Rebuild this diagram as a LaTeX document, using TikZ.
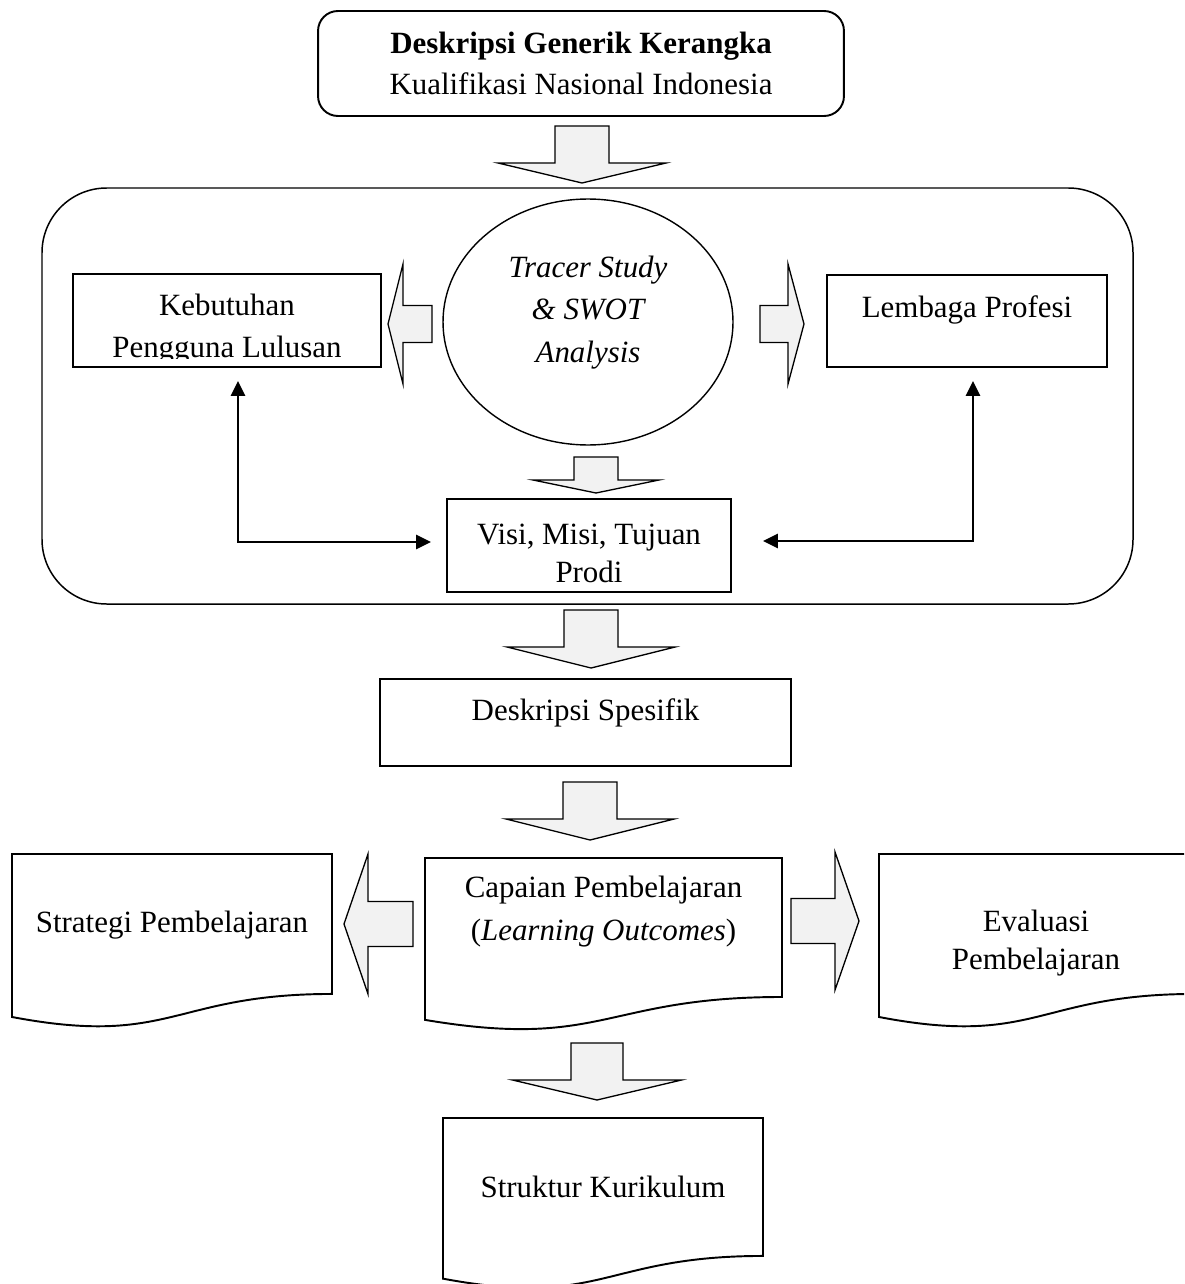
\documentclass[tikz,border=0pt]{standalone}
\usepackage{fontspec}
\setmainfont{Liberation Serif}
\usetikzlibrary{arrows.meta,calc,shapes.geometric}
\definecolor{arrfill}{HTML}{F2F2F2}
% down block arrow: cx, top, shaft half, head y, head half, tip y
\newcommand\BlkDown[6]{%
  \draw[blk] ({#1-#3},#2) -- ({#1+#3},#2) -- ({#1+#3},#4) -- ({#1+#5},#4) -- (#1,#6)
    -- ({#1-#5},#4) -- ({#1-#3},#4) -- cycle;}
% horizontal block arrow: cy, tail x, shaft half, head x, head half, tip x
\newcommand\BlkHoriz[6]{%
  \draw[blk] (#2,{#1-#3}) -- (#4,{#1-#3}) -- (#4,{#1-#5}) -- (#6,#1) -- (#4,{#1+#5})
    -- (#4,{#1+#3}) -- (#2,{#1+#3}) -- cycle;}
% document shape: left, top, width, height
\newcommand\DocShape[4]{%
  \draw[boxline] (#1,#2) -- ({#1+#3},#2) -- ({#1+#3},{#2+0.802*#4})
    .. controls ({#1+0.5*#3},{#2+0.802*#4}) and ({#1+0.5*#3},{#2+1.1075*#4}) .. (#1,{#2+0.934*#4}) -- cycle;}
\begin{document}
\begin{tikzpicture}[x=0.02cm,y=-0.02cm,
  boxline/.style={draw=black,line width=1.1pt},
  box/.style={boxline,rectangle,inner sep=0pt},
  blk/.style={draw=black,fill=arrfill,line width=0.75pt,line join=miter},
  txt/.style={font=\fontsize{17.6pt}{#1}\selectfont,align=center,inner sep=0pt},
  txt/.default=23pt,
  itxt/.style={font=\fontsize{17.6pt}{#1}\selectfont\itshape,align=center,inner sep=0pt},
  conn/.style={line width=1.3pt,{Triangle[length=8.5pt,width=8pt]}-{Triangle[length=8.5pt,width=8pt]}}]
\useasboundingbox (0,0) rectangle (1184,1284);
\clip (0,0) rectangle (1184,1284);
\fill[white] (0,0) rectangle (1184,1284);

% top box
\node[box,rounded corners=11.3pt,minimum width=10.52cm,minimum height=2.1cm,
      txt=23.2pt] (kkni) at (581,63.5)
  {{\bfseries Deskripsi Generik Kerangka}\\Kualifikasi Nasional Indonesia};
\BlkDown{582}{126}{27}{163}{84}{183}

% big rounded frame
\draw[draw=black,line width=0.85pt,rounded corners=36.8pt] (42,188) rectangle (1133,604);

% ellipse
\node[draw=black,line width=0.8pt,ellipse,minimum width=5.8cm,minimum height=4.92cm,inner sep=0pt] (swot) at (588,322) {};
\node[itxt=24.1pt] (swotT) at (588,312.5) {Tracer Study\\\& SWOT\\Analysis};

% side boxes
\node[box,minimum width=6.16cm,minimum height=1.86cm] (keb) at (227,320.5) {};
\begin{scope}
  \clip (73,274) rectangle (381,358.5);
  \node[txt=23.8pt] (kebT) at (227,329) {Kebutuhan\\Pengguna Lulusan};
\end{scope}
\node[box,minimum width=5.6cm,minimum height=1.84cm] (lem) at (967,321) {};
\node[txt] (lemT) at (967,310) {Lembaga Profesi};

\BlkHoriz{324}{432}{18.5}{403}{60}{388}
\BlkHoriz{324}{760}{18.5}{788}{60}{804}
\BlkDown{596}{457}{22}{480}{63}{493}

% visi box
\node[box,minimum width=5.68cm,minimum height=1.86cm] (visi) at (589,545.5) {};
\node[txt=21.5pt] (visiT) at (589,553.5) {Visi, Misi, Tujuan\\Prodi};

\draw[conn] ($(keb.south)+(11,13)$) |- ($(visi.west)+(-15,-3.5)$);
\draw[conn] ($(lem.south)+(6,13)$) |- ($(visi.east)+(31,-4.5)$);

\BlkDown{591}{610}{27}{647}{84}{668}

% deskripsi spesifik
\node[box,minimum width=8.22cm,minimum height=1.74cm] (desk) at (585.5,722.5) {};
\node[txt] (deskT) at (585.5,713) {Deskripsi Spesifik};

\BlkDown{590}{782}{27}{819}{84}{840}

% document shapes
\DocShape{12}{854}{320}{174.5}
\node[txt] (strat) at (172,925) {Strategi Pembelajaran};
\DocShape{425}{858}{357}{173.3}
\node[txt=24.4pt] (cp) at (603.5,911.5) {Capaian Pembelajaran\\(\textit{Learning Outcomes})};
\DocShape{879}{854}{316}{174.5}
\node[txt=21.5pt] (eval) at (1036,943) {Evaluasi\\Pembelajaran};

\BlkHoriz{924}{413}{22.5}{368}{70}{344}
\BlkHoriz{921}{791}{22.5}{835}{69}{859}

\BlkDown{597}{1043}{26}{1080}{84.5}{1100}
\DocShape{443}{1118}{320}{172}
\node[txt] (struk) at (603,1186.5) {Struktur Kurikulum};
\end{tikzpicture}
\end{document}
